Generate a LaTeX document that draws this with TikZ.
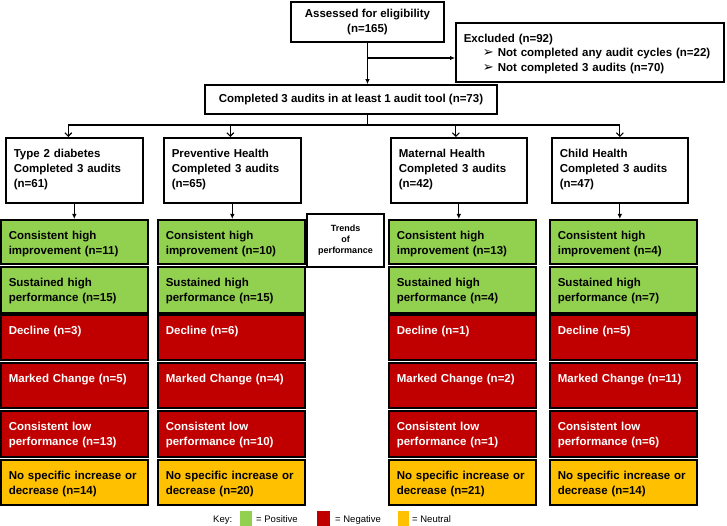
\documentclass[tikz,border=0pt]{standalone}
\usepackage{fontspec}
\setmainfont{Liberation Sans}
\newfontfamily\dejavu{DejaVu Sans}
\usetikzlibrary{arrows.meta}
\definecolor{pos}{HTML}{92D050}
\definecolor{neg}{HTML}{C00000}
\definecolor{neu}{HTML}{FFC000}
\newcommand\bx[7]{%
 \pgfmathsetmacro\bxw{#5-#3}%
 \pgfmathsetmacro\bxtw{#5-#3-16}%
 \pgfmathsetmacro\bxh{#6-#4}%
 \pgfmathsetmacro\bxtd{#6-#4-19.5}%
 \node[#2, minimum width=\bxw pt, minimum height=\bxh pt, text width=\bxtw pt, text height=19.5pt, text depth=\bxtd pt] (#1) at (#3,#4) {#7};}
\newcommand\bul{\makebox[15pt][l]{\dejavu\fontsize{13}{13}\selectfont ➢}}
\begin{document}
\begin{tikzpicture}[x=1pt,y=-1pt,
 every node/.style={font=\fontsize{11.5}{15}\selectfont\bfseries},
 base/.style={draw=black, line width=1.6pt, inner xsep=8pt, inner ysep=0pt, align=left, anchor=north west},
 wbox/.style={base, fill=white},
 gbox/.style={base, fill=pos},
 rbox/.style={base, fill=neg, text=white},
 ybox/.style={base, fill=neu},
 cbox/.style={draw=black, line width=1.6pt, fill=white, align=center, inner sep=0pt},
 keytxt/.style={font=\fontsize{9.5}{11}\selectfont, anchor=base west, inner sep=0pt},
 swatch/.style={inner sep=0pt, anchor=north west, minimum height=16pt},
 arr/.style={line width=1.1pt, -{Latex[length=5pt,width=4.5pt]}},
 arrv/.style={line width=1.1pt, -{Straight Barb[length=3.5pt,width=7pt]}},
 ln/.style={line width=1.1pt}]
\useasboundingbox (0,0) rectangle (727,526);

% top
\node[cbox, minimum width=153pt, minimum height=40pt] (assess) at (367.5,22) {Assessed for eligibility\\(n=165)};
\node[cbox, minimum width=292pt, minimum height=29pt] (compl) at (351,99.5) {Completed 3 audits in at least 1 audit tool (n=73)};
\bx{excl}{wbox}{455}{22}{723}{81}{\fontsize{11.5}{14}\selectfont Excluded (n=92)\\
\hspace*{19pt}\bul Not completed any audit cycles (n=22)\\
\hspace*{19pt}\bul Not completed 3 audits (n=70)}

% columns
\bx{c1}{wbox}{5}{137}{142}{202}{Type 2 diabetes\\Completed 3 audits\\(n=61)}
\bx{c2}{wbox}{163}{137}{300}{202}{Preventive Health\\Completed 3 audits\\(n=65)}
\bx{c3}{wbox}{390}{137}{526}{202}{Maternal Health\\Completed 3 audits\\(n=42)}
\bx{c4}{wbox}{551}{137}{687}{202}{Child Health\\Completed 3 audits\\(n=47)}

\node[cbox, font=\fontsize{9}{11}\selectfont\bfseries, minimum width=77pt, minimum height=53pt] (trend) at (345.5,240.5) {Trends\\of\\performance};

% column 1
\bx{a1}{gbox}{0}{219}{147}{263}{Consistent high\\improvement (n=11)}
\bx{a2}{gbox}{0}{266}{147}{312}{Sustained high\\performance (n=15)}
\bx{a3}{rbox}{0}{314}{147}{359}{Decline (n=3)}
\bx{a4}{rbox}{0}{362}{147}{407}{Marked Change (n=5)}
\bx{a5}{rbox}{0}{410}{147}{456}{Consistent low\\performance (n=13)}
\bx{a6}{ybox}{0}{459}{147}{504}{No specific increase or\\decrease (n=14)}
% column 2
\bx{b1}{gbox}{157}{219}{304}{263}{Consistent high\\improvement (n=10)}
\bx{b2}{gbox}{157}{266}{304}{312}{Sustained high\\performance (n=15)}
\bx{b3}{rbox}{157}{314}{304}{359}{Decline (n=6)}
\bx{b4}{rbox}{157}{362}{304}{407}{Marked Change (n=4)}
\bx{b5}{rbox}{157}{410}{304}{456}{Consistent low\\performance (n=10)}
\bx{b6}{ybox}{157}{459}{304}{504}{No specific increase or\\decrease (n=20)}
% column 3
\bx{d1}{gbox}{388}{219}{535}{263}{Consistent high\\improvement (n=13)}
\bx{d2}{gbox}{388}{266}{535}{312}{Sustained high\\performance (n=4)}
\bx{d3}{rbox}{388}{314}{535}{359}{Decline (n=1)}
\bx{d4}{rbox}{388}{362}{535}{407}{Marked Change (n=2)}
\bx{d5}{rbox}{388}{410}{535}{456}{Consistent low\\performance (n=1)}
\bx{d6}{ybox}{388}{459}{535}{504}{No specific increase or\\decrease (n=21)}
% column 4
\bx{e1}{gbox}{549}{219}{696}{263}{Consistent high\\improvement (n=4)}
\bx{e2}{gbox}{549}{266}{696}{312}{Sustained high\\performance (n=7)}
\bx{e3}{rbox}{549}{314}{696}{359}{Decline (n=5)}
\bx{e4}{rbox}{549}{362}{696}{407}{Marked Change (n=11)}
\bx{e5}{rbox}{549}{410}{696}{456}{Consistent low\\performance (n=6)}
\bx{e6}{ybox}{549}{459}{696}{504}{No specific increase or\\decrease (n=14)}

% connectors
\draw[arr] (assess.south) -- (assess.south |- compl.north);
\coordinate (ej) at (367.5,58);
\draw[arr] (ej) -- (ej -| excl.west);
\coordinate (sp) at (367.5,125);
\draw[ln] (compl.south -| assess.south) -- (sp);
\draw[ln] ([xshift=-6pt]c1.north |- sp) -- (c4.north |- sp);
\draw[arrv] ([xshift=-6pt]c1.north |- sp) -- ([xshift=-6pt]c1.north);
\draw[arrv] ([xshift=-2pt]c2.north |- sp) -- ([xshift=-2pt]c2.north);
\draw[arrv] ([xshift=-3pt]c3.north |- sp) -- ([xshift=-3pt]c3.north);
\draw[arrv] (c4.north |- sp) -- (c4.north);
\draw[arr] (c1.south) -- (c1.south |- a1.north);
\draw[arr] (c2.south) -- (c2.south |- b1.north);
\draw[arr] (c3.south) -- (c3.south |- d1.north);
\draw[arr] (c4.south) -- (c4.south |- e1.north);

% key
\node[keytxt] (key) at (213,522) {Key:};
\node[swatch, fill=pos, minimum width=12pt] (kpos) at (240,511) {};
\node[keytxt] (tpos) at (256,522) {= Positive};
\node[swatch, fill=neg, minimum width=13pt] (kneg) at (317,511) {};
\node[keytxt] (tneg) at (335,522) {= Negative};
\node[swatch, fill=neu, minimum width=11pt] (kneu) at (398,511) {};
\node[keytxt] (tneu) at (412,522) {= Neutral};
\end{tikzpicture}
\end{document}
